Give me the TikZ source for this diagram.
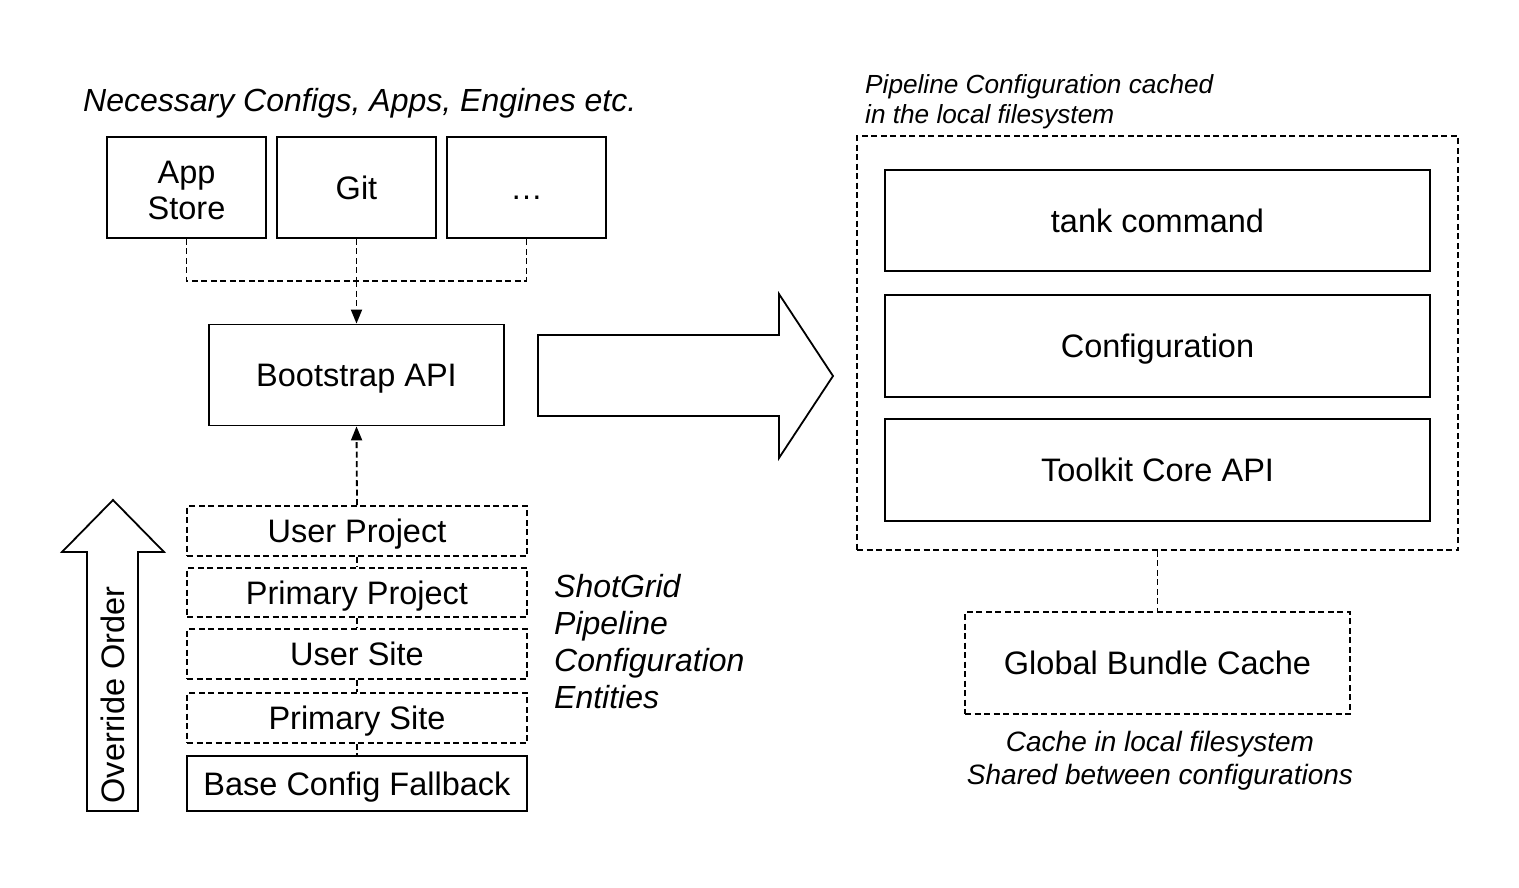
\documentclass[tikz,border=0pt]{standalone}
\usepackage{fontspec}
\setmainfont{Liberation Sans}
\usetikzlibrary{arrows.meta}
\begin{document}
\begin{tikzpicture}[x=1pt,y=-1pt,
  lw/.style={line width=1.8pt},
  dsh/.style={lw,dash pattern=on 6pt off 3.5pt},
  boxfont/.style={font=\fontsize{32.5}{36}\selectfont},
  box/.style={draw,lw,rectangle,inner sep=0pt,align=center,boxfont,text height=23.3pt,text depth=0pt},
  dbox/.style={box,dsh},
  lbl/.style={inner sep=0pt,font=\fontsize{32}{37}\selectfont\itshape},
  tip/.style={-{Triangle[length=14pt,width=11pt]}}
]
\useasboundingbox (0,0) rectangle (1519,887);

% top source boxes
\node[box,minimum width=159,minimum height=101] (app) at (186.5,187.5) {};
\node[inner sep=0pt,align=center,boxfont,yshift=-2.5pt] (apptext) at (app.center) {App\\Store};
\node[box,minimum width=159,minimum height=101] (git) at (356.5,187.5) {Git};
\node[box,minimum width=159,minimum height=101] (dots) at (526.5,187.5) {…};
\node[lbl,anchor=base west] (nec) at (83,111) {Necessary Configs, Apps, Engines etc.};

\node[box,minimum width=295,minimum height=101] (bapi) at (356.5,375) {Bootstrap API};

\coordinate (join) at (356.5,281);
\draw[dsh] (app.south) |- (join) -| (dots.south);
\draw[dsh] (git.south) -- (join);
\draw[dsh,tip] (join) -- (bapi.north);

% stack
\node[dbox,minimum width=340,minimum height=50] (up) at (357,531) {User Project};
\node[dbox,minimum width=340,minimum height=49] (pp) at (357,592.5) {Primary Project};
\node[dbox,minimum width=340,minimum height=50] (us) at (357,654) {User Site};
\node[dbox,minimum width=340,minimum height=50] (ps) at (357,718) {Primary Site};
\node[box,minimum width=340,minimum height=55] (base) at (357,783.5) {Base Config Fallback};

\draw[dsh,tip] (up.north) -- (bapi.south);
\draw[dsh] (up.south) -- (pp.north);
\draw[dsh] (pp.south) -- (us.north);
\draw[dsh] (us.south) -- (ps.north);
\draw[dsh] (ps.south) -- (base.north);

\node[lbl,anchor=base west] (sg) at (554,597) {ShotGrid};
\node[lbl,anchor=base west] (sg2) at (554,634) {Pipeline};
\node[lbl,anchor=base west] (sg3) at (554,671) {Configuration};
\node[lbl,anchor=base west] (sg4) at (554,708) {Entities};

% override order arrow
\draw[lw,line join=miter] (87,811) -- (87,552) -- (62,552) -- (113,500) -- (164,552) -- (138,552) -- (138,811) -- cycle;
\node[rotate=90,inner sep=0pt,boxfont] (oo) at (113,695) {Override Order};

% big arrow
\draw[lw,line join=miter] (538,335) -- (779,335) -- (779,294) -- (833,376) -- (779,458) -- (779,416) -- (538,416) -- cycle;

% right side
\node[draw,dsh,rectangle,inner sep=0pt,minimum width=601,minimum height=414] (cont) at (1157.5,343) {};
\node[box,minimum width=545,minimum height=101] (tank) at (1157.5,220.5) {tank command};
\node[box,minimum width=545,minimum height=102] (conf) at (1157.5,346) {Configuration};
\node[box,minimum width=545,minimum height=102] (core) at (1157.5,470) {Toolkit Core API};

\node[inner sep=0pt,anchor=base west,font=\fontsize{26.2}{30}\selectfont\itshape] (pcc1) at (865,93) {Pipeline Configuration cached};
\node[inner sep=0pt,anchor=base west,font=\fontsize{26.2}{30}\selectfont\itshape] (pcc2) at (865,123) {in the local filesystem};

\node[dbox,minimum width=385,minimum height=102] (gbc) at (1157.5,663) {Global Bundle Cache};
\draw[dsh] (cont.south) -- (gbc.north);

\node[inner sep=0pt,anchor=base,font=\fontsize{28}{33}\selectfont\itshape] (c1) at (1160,751) {Cache in local filesystem};
\node[inner sep=0pt,anchor=base,font=\fontsize{28}{33}\selectfont\itshape] (c2) at (1160,784) {Shared between configurations};
\end{tikzpicture}
\end{document}
